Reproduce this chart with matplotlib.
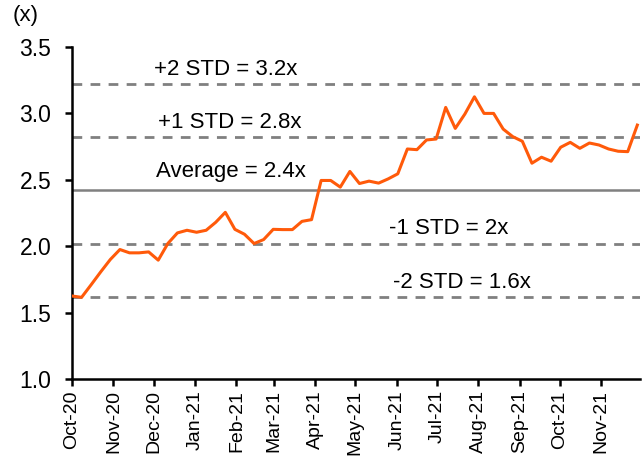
import numpy as np
import pandas as pd
import matplotlib
matplotlib.use("Agg")
import matplotlib.pyplot as plt
import matplotlib.dates as mdates
import matplotlib.transforms as mtransforms

plt.rcParams['font.family'] = ['Liberation Sans', 'DejaVu Sans']

# weekly P/B multiple, Oct-20 .. Nov-21
dates = pd.date_range('2020-10-01', '2021-11-28', periods=60)
multiple = [1.625, 1.615, 1.71, 1.807, 1.90, 1.975, 1.95, 1.95, 1.957, 1.895,
            2.02, 2.10, 2.12, 2.105, 2.12, 2.18, 2.255, 2.127, 2.09, 2.02,
            2.05, 2.127, 2.125, 2.125, 2.187, 2.20, 2.495, 2.495, 2.445, 2.563,
            2.472, 2.49, 2.475, 2.507, 2.545, 2.732, 2.727, 2.80, 2.807, 3.045,
            2.887, 2.995, 3.125, 3.0, 3.0, 2.882, 2.825, 2.79, 2.625, 2.67,
            2.64, 2.745, 2.782, 2.737, 2.777, 2.762, 2.732, 2.715, 2.712, 2.912]

band_values = [3.22, 2.82, 2.42, 2.02, 1.62]
band_labels = ['+2 STD = 3.2x', '+1 STD = 2.8x', 'Average = 2.4x', '-1 STD = 2x', '-2 STD = 1.6x']
band_styles = ['--', '--', '-', '--', '--']
label_x = [0.271, 0.278, 0.28, 0.664, 0.687]
label_y = [3.33, 2.93, 2.56, 2.13, 1.73]

fig = plt.figure(figsize=(6.44, 4.65), dpi=100)
ax = fig.add_axes([72/644, 1-379/465, (640-72)/644, (379-47)/465])

for v, ls in zip(band_values, band_styles):
    if ls == '--':
        ax.axhline(v, color='#808080', lw=2.0, ls=(0, (3.5, 3)), zorder=1)
    else:
        ax.axhline(v, color='#808080', lw=1.8, ls='-', zorder=1)

ax.plot(dates, multiple, color='#FF5A0A', lw=2.2, zorder=3)

trans = mtransforms.blended_transform_factory(ax.transAxes, ax.transData)
for lab, lx, ly in zip(band_labels, label_x, label_y):
    ax.text(lx, ly, lab, transform=trans, ha='center', va='center', fontsize=16, color='black')

ax.set_ylim(1.0, 3.5)
ax.set_yticks(np.arange(1.0, 3.51, 0.5))
ax.yaxis.set_major_formatter(matplotlib.ticker.FormatStrFormatter('%.1f'))
ax.set_xlim(pd.Timestamp('2020-10-01'), pd.Timestamp('2021-11-30'))
ax.xaxis.set_major_locator(mdates.MonthLocator())
ax.xaxis.set_major_formatter(mdates.DateFormatter('%b-%y'))
plt.setp(ax.get_xticklabels(), rotation=90)

for s in ['top', 'right']:
    ax.spines[s].set_visible(False)
for s in ['left', 'bottom']:
    ax.spines[s].set_linewidth(1.8)
    ax.spines[s].set_color('black')
ax.tick_params(axis='both', direction='out', length=5, width=1.8, colors='black')
ax.tick_params(axis='y', pad=10, labelsize=16.5)
ax.tick_params(axis='x', pad=3, labelsize=14)

fig.text(26/644, 1-16/465, '(x)', ha='center', va='center', fontsize=16)

fig.savefig('out.png', dpi=100)
